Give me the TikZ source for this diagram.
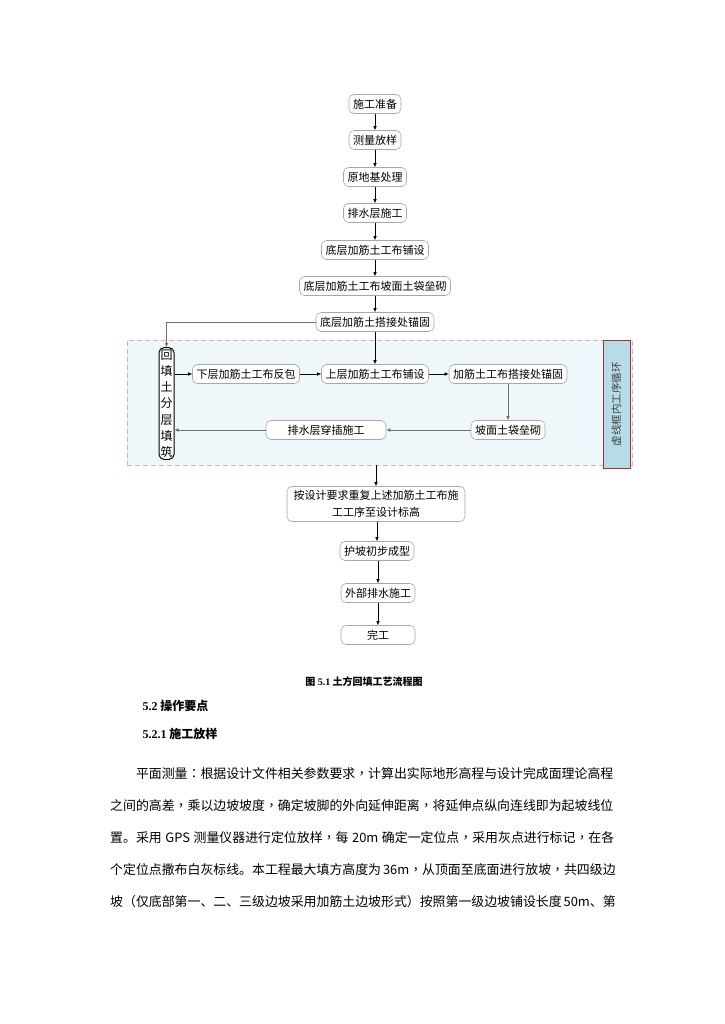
\documentclass[tikz,border=0pt]{standalone}
\usepackage{fontspec}
\setmainfont{Noto Sans CJK SC}
\newfontfamily\serifnum{Liberation Serif}
\newfontfamily\tcpunct{Noto Sans CJK TC}
\newcommand{\cc}{{\tcpunct ，}}
\newcommand{\cco}{{\tcpunct ：}}
\usetikzlibrary{arrows.meta}
\definecolor{loopfill}{HTML}{EEF7FA}
\definecolor{loopdash}{HTML}{F2A7AF}
\definecolor{labfill}{HTML}{B7DCE6}
\definecolor{labdraw}{HTML}{A83236}
\definecolor{nodedraw}{HTML}{A8A8A8}
\definecolor{linegray}{HTML}{707070}
\tikzset{
  x=1pt, y=-1pt,
  flow/.style={draw=nodedraw, rounded corners=5pt, fill=white, inner xsep=4pt, inner ysep=2pt,
    font=\fontsize{11}{13}\selectfont, minimum height=19pt, line width=0.6pt},
  arr/.style={-{Latex[length=4pt,width=3.5pt]}, line width=0.6pt, black},
  garr/.style={-{Latex[length=4pt,width=3.5pt]}, line width=0.6pt, draw=linegray},
  para/.style={anchor=base west, inner sep=0pt, font=\fontsize{12.9}{14}\selectfont},
}
\begin{document}
\begin{tikzpicture}
\useasboundingbox (0,0) rectangle (724,1024);
\fill[white] (0,0) rectangle (724,1024);

% loop box
\node[draw=loopdash, dashed, dash pattern=on 5pt off 3pt, fill=loopfill, minimum width=505pt, minimum height=125pt, inner sep=0pt, line width=0.6pt] (loop) at (379.5,402.5) {};
\node[draw=labdraw, fill=labfill, minimum width=27pt, minimum height=128pt, inner sep=0pt, line width=0.8pt] (lab) at (616.5,404) {};
\node[rotate=90, font=\fontsize{10.5}{12}\selectfont, text=black!75] (labt) at (lab.center) {虚线框内工序循环};

% main chain
\node[flow] (n1) at (375,104) {施工准备};
\node[flow] (n2) at (375,140) {测量放样};
\node[flow] (n3) at (375,177) {原地基处理};
\node[flow] (n4) at (375,213) {排水层施工};
\node[flow] (n5) at (375,250) {底层加筋土工布铺设};
\node[flow] (n6) at (375,286) {底层加筋土工布坡面土袋垒砌};
\node[flow] (n7) at (375,322) {底层加筋土搭接处锚固};

% loop nodes
\node[draw=black, rounded corners=5pt, fill=white, line width=1pt, inner xsep=1.5pt, inner ysep=2pt, minimum height=107pt, align=center, font=\fontsize{12}{16.2}\selectfont] (hl) at (166.5,403.5) {回\\填\\土\\分\\层\\填\\筑};
\node[flow] (xc) at (246,374) {下层加筋土工布反包};
\node[flow] (sc) at (375,374) {上层加筋土工布铺设};
\node[flow] (jm) at (508,374) {加筋土工布搭接处锚固};
\node[flow] (pm) at (508,430) {坡面土袋垒砌};
\node[flow, minimum width=120pt] (ps) at (326,430) {排水层穿插施工};

% after loop
\node[flow, align=center, font=\fontsize{11}{17}\selectfont, minimum width=178pt, minimum height=35pt] (rp) at (376,504) {按设计要求重复上述加筋土工布施\\工工序至设计标高};
\node[flow, minimum width=72pt] (hp) at (377,551) {护坡初步成型};
\node[flow, minimum width=74pt] (wb) at (378,593) {外部排水施工};
\node[flow, minimum width=74pt] (wg) at (378,635) {完工};

% connectors
\draw[arr] (n1) -- (n2);
\draw[arr] (n2) -- (n3);
\draw[arr] (n3) -- (n4);
\draw[arr] (n4) -- (n5);
\draw[arr] (n5) -- (n6);
\draw[arr] (n6) -- (n7);
\draw[arr] (n7) -- (sc);
\draw[garr] (n7.west) -| (hl.north);
\draw[arr] (hl.east |- xc) -- (xc.west);
\draw[arr] (xc) -- (sc);
\draw[arr] (sc) -- (jm);
\draw[garr] (jm) -- (pm);
\draw[garr] (pm) -- (ps);
\draw[garr] (ps.west) -- (hl.east |- ps);
\draw[arr] (rp.north |- loop.south) -- (rp.north);
\draw[arr] (rp.south -| hp) -- (hp.north);
\draw[arr] (hp.south -| wb) -- (wb.north);
\draw[arr] (wb) -- (wg);

% caption and text
\node[font=\fontsize{10}{12}\selectfont\bfseries] (cap) at (364,682) {图 {\serifnum 5.1} 土方回填工艺流程图};
\node[anchor=west, font=\fontsize{12}{14}\selectfont\bfseries] (h1) at (139,706) {{\serifnum 5.2} 操作要点};
\node[anchor=west, font=\fontsize{12}{14}\selectfont\bfseries] (h2) at (139,734) {{\serifnum 5.2.1} 施工放样};

\node[para] (p1) at (135.8,778) {平面测量\cco 根据设计文件相关参数要求\cc 计算出实际地形高程与设计完成面理论高程};
\node[para] (p2) at (110,810) {之间的高差\cc 乘以边坡坡度\cc 确定坡脚的外向延伸距离\cc 将延伸点纵向连线即为起坡线位};
\node[para] (p3) at (110,842) {\makebox[504pt][s]{置。采用 GPS 测量仪器进行定位放样\cc 每 20m 确定一定位点\cc 采用灰点进行标记\cc 在各}};
\node[para] (p4) at (110,874) {\makebox[504pt][s]{个定位点撒布白灰标线。本工程最大填方高度为 36m\cc 从顶面至底面进行放坡\cc 共四级边}};
\node[para] (p5) at (110,906) {\makebox[504pt][s]{坡（仅底部第一、二、三级边坡采用加筋土边坡形式）按照第一级边坡铺设长度 50m、第}};
\end{tikzpicture}
\end{document}
